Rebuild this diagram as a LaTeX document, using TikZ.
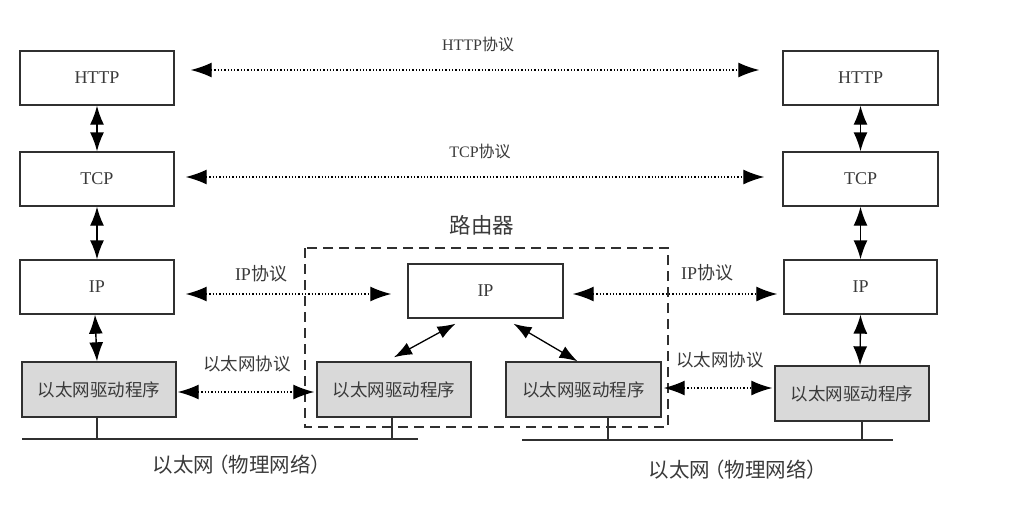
\documentclass[tikz,border=0pt]{standalone}
\usepackage{fontspec}
\setmainfont{Liberation Serif}
\newfontfamily\cjk{Noto Sans CJK SC}
\usetikzlibrary{arrows.meta}
\definecolor{ln}{HTML}{303030}
\definecolor{tx}{HTML}{3A3A3A}
\definecolor{gfill}{HTML}{D9D9D9}
\tikzset{
  x=1pt, y=-1pt,
  box/.style={draw=ln, line width=1.4pt, minimum width=154pt, minimum height=54pt, inner sep=0pt, text=tx, font=\fontsize{18}{20}\selectfont},
  ethbox/.style={box, fill=gfill, minimum height=55pt, font=\cjk\fontsize{17.5}{20}\selectfont},
  vlink/.style={draw=black, line width=1.4pt, {Latex[length=19pt,width=14pt]}-{Latex[length=19pt,width=14pt]}},
  plink/.style={draw=black, line width=1.3pt, dotted, {Latex[length=21pt,width=15pt]}-{Latex[length=21pt,width=15pt]}},
  dlink/.style={draw=black, line width=1.3pt, {Latex[length=18pt,width=13pt]}-{Latex[length=18pt,width=13pt]}},
  lbl/.style={text=tx, inner sep=0pt, font=\fontsize{16}{18}\selectfont},
  net/.style={draw=ln, line width=1.3pt},
}
\begin{document}
\begin{tikzpicture}
\useasboundingbox (0,0) rectangle (1027,506);
% left host
\node[box] (lh) at (97,78) {HTTP};
\node[box] (lt) at (97,179) {TCP};
\node[box] (li) at (97,287) {IP};
\node[ethbox] (le) at (99,389.5) {以太网驱动程序};
% right host
\node[box, minimum width=155pt] (rh) at (860.5,78) {HTTP};
\node[box, minimum width=155pt] (rt) at (860.5,179) {TCP};
\node[box, minimum width=153pt] (ri) at (860.5,287) {IP};
\node[ethbox] (re) at (852,393.5) {以太网驱动程序};
% router
\node[box, minimum width=155pt] (mi) at (485.5,291) {IP};
\node[ethbox] (ml) at (394,389.5) {以太网驱动程序};
\node[ethbox, minimum width=155pt] (mr) at (583.5,389.5) {以太网驱动程序};
\draw[draw=ln, line width=1.4pt, dash pattern=on 10pt off 6pt] (305,248) rectangle (668,427);
\node[lbl, font=\cjk\fontsize{21.5}{24}\selectfont] (rtr) at (482,225) {路由器};
% vertical links
\draw[vlink] (lh.south) -- (lt.north);
\draw[vlink] (lt.south) -- (li.north);
\draw[vlink] ([xshift=-2pt]li.south) -- ([xshift=-2pt]le.north);
\draw[vlink] (rh.south) -- (rt.north);
\draw[vlink] (rt.south) -- (ri.north);
\draw[vlink] (ri.south) -- ([xshift=8pt]re.north);
\draw[dlink] ([xshift=-30pt,yshift=-5pt]mi.south) -- ([yshift=4pt]ml.north);
\draw[dlink] ([xshift=28pt,yshift=-5pt]mi.south) -- ([xshift=-6pt]mr.north);
% protocol links
\draw[plink] ([xshift=16pt,yshift=8pt]lh.east) -- ([xshift=-23pt,yshift=8pt]rh.west);
\node[lbl] (hp) at (478,44) {HTTP{\cjk 协议}};
\draw[plink] ([xshift=11pt,yshift=2pt]lt.east) -- ([xshift=-18pt,yshift=2pt]rt.west);
\node[lbl] (tp) at (480,151) {TCP{\cjk 协议}};
\draw[plink] ([xshift=11pt,yshift=-7pt]li.east) -- ([xshift=-16pt,yshift=-3pt]mi.west);
\node[lbl, font=\fontsize{18}{20}\selectfont] (ipl) at (261,274) {IP{\cjk 协议}};
\draw[plink] ([xshift=9pt,yshift=-3pt]mi.east) -- ([xshift=-6pt,yshift=-7pt]ri.west);
\node[lbl, font=\fontsize{18}{20}\selectfont] (ipr) at (707,273) {IP{\cjk 协议}};
\draw[plink] ([xshift=1pt,yshift=-2.5pt]le.east) -- ([xshift=-2pt,yshift=-2.5pt]ml.west);
\node[lbl, font=\cjk\fontsize{17.5}{20}\selectfont] (epl) at (247,364) {以太网协议};
\draw[plink] ([xshift=2pt,yshift=1.5pt]mr.east) -- ([xshift=-2pt,yshift=5.5pt]re.west);
\node[lbl, font=\cjk\fontsize{17.5}{20}\selectfont] (epr) at (720,360) {以太网协议};
% networks
\coordinate (nl1) at (22,439);
\coordinate (nl2) at (418,439);
\coordinate (nr1) at (522,440);
\coordinate (nr2) at (893,440);
\draw[net] (nl1) -- (nl2);
\draw[net] (nr1) -- (nr2);
\draw[net] ([xshift=-2pt]le.south) -- ([xshift=-2pt]le.south |- nl1);
\draw[net] ([xshift=-2pt]ml.south) -- ([xshift=-2pt]ml.south |- nl1);
\draw[net] ([xshift=24.5pt]mr.south) -- ([xshift=24.5pt]mr.south |- nr1);
\draw[net] ([xshift=10pt]re.south) -- ([xshift=10pt]re.south |- nr1);
\node[lbl, font=\cjk\fontsize{20.5}{23}\selectfont] (netl) at (242,465) {以太网\kern-0.3em（物理网络）};
\node[lbl, font=\cjk\fontsize{20.5}{23}\selectfont] (netr) at (738,470) {以太网\kern-0.3em（物理网络）};
\end{tikzpicture}
\end{document}
